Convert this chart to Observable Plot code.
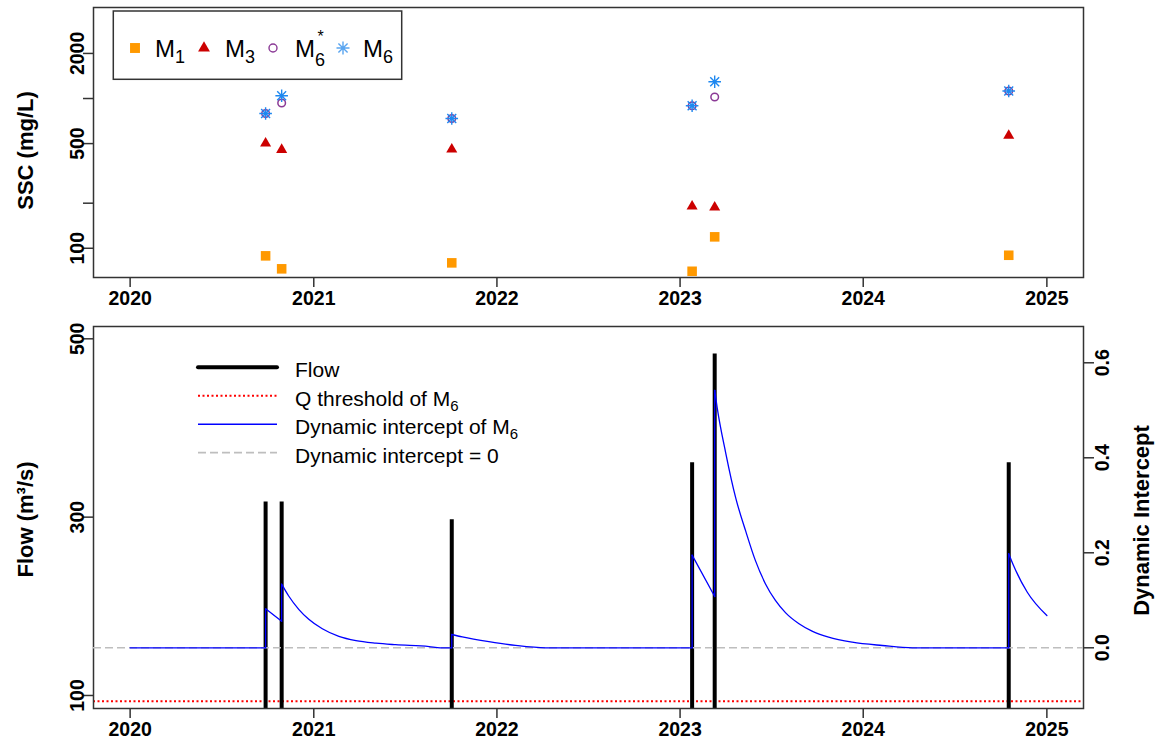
<!DOCTYPE html>
<html><head><meta charset="utf-8">
<script src="https://cdn.jsdelivr.net/npm/d3@7"></script>
<script src="https://cdn.jsdelivr.net/npm/@observablehq/plot@0.6"></script>
<style>
html,body{margin:0;padding:0;background:#fff;}
#chart{position:relative;width:1156px;height:747px;overflow:hidden;}
#chart svg{position:absolute;left:0;}
</style></head><body><div id="chart"></div>
<script>
// ---------------- data ----------------
const eventDates = ["2020-09-27","2020-10-29","2021-10-03","2023-01-25","2023-03-11","2024-10-17"];
const sscM1     = [89.0, 72.9, 79.9, 70.2, 119.2, 89.8];
const sscM3     = [502, 455, 458, 190.6, 187.7, 565];
const sscM6star = [795, 933, 736, 895, 1023, 1122];
const sscM6     = [795, 1044, 736, 895, 1294, 1122];
const flowPeaks = [317, 317, 297, 361, 483, 361];
const qThreshold = 93.5;

const interceptDates = ["2020-01-01","2020-09-27","2020-09-27","2020-10-29","2020-10-29","2020-11-12","2020-12-02","2020-12-22",
  "2021-01-18","2021-02-20","2021-03-26","2021-05-05","2021-06-13","2021-08-19","2021-09-10","2021-10-03","2021-10-03",
  "2021-10-24","2021-12-16","2022-02-07","2022-04-08","2023-01-25","2023-01-25","2023-03-11","2023-03-11","2023-03-16",
  "2023-04-02","2023-04-22","2023-05-12","2023-05-31","2023-06-20","2023-07-10","2023-07-30","2023-08-26","2023-09-21",
  "2023-10-24","2023-12-10","2024-02-08","2024-04-08","2024-10-17","2024-10-17","2024-10-27","2024-11-23","2025-01-01"];
const interceptValues = [0,0,0.082,0.056,0.134,0.109,0.081,0.060,
  0.040,0.024,0.015,0.0097,0.0065,0.0025,0,0,0.028,
  0.023,0.013,0.005,0,0,0.195,0.108,0.542,0.505,
  0.410,0.315,0.245,0.184,0.135,0.0996,0.074,0.0505,0.035,
  0.0223,0.0118,0.0048,0,0,0.198,0.172,0.117,0.068];

const yearTicks = ["2020-01-01","2021-01-01","2022-01-01","2023-01-01","2024-01-01","2025-01-01"];
const xLimits = ["2019-10-20","2025-03-15"];
const sscTicks = [100, 200, 500, 1000, 2000];
const sscTickLabels = ["100", "", "500", "", "2000"];
const sscLimits = [63.8, 4053];
const flowTicks = [100, 300, 500];
const flowLimits = [85.4, 513.8];
const interceptTicks = [0, 0.2, 0.4, 0.6];
const interceptLimits = [-0.1278, 0.6764];

const topLegendBase = ["M", "M", "M", "M"];
const topLegendSub  = ["1", "3", "6", "6"];
const topLegendSup  = ["", "", "*", ""];
const bottomLegendText = ["Flow", "Q threshold of M", "Dynamic intercept of M", "Dynamic intercept = 0"];
const bottomLegendSub  = ["", "6", "6", ""];

// ---------------- styles ----------------
const FONT = '"Liberation Sans", Arial, Helvetica, sans-serif';
const C_M1 = "#FF9900", C_M3 = "#CC0000", C_M6S = "#8B3A96", C_M6 = "#1E88F0";
const C_FRAME = "#333";

const parse = s => new Date(s + "T00:00:00Z");
const xDomain = xLimits.map(parse);
const yearDates = yearTicks.map(parse);
const ssc = eventDates.map((d, i) => ({date: parse(d), m1: sscM1[i], m3: sscM3[i], m6s: sscM6star[i], m6: sscM6[i]}));
const flow = eventDates.map((d, i) => ({date: parse(d), peak: flowPeaks[i]}));
const intercept = interceptDates.map((d, i) => ({date: parse(d), value: interceptValues[i]}));
const sscLabelMap = new Map(sscTicks.map((t, i) => [t, sscTickLabels[i]]));

// split the intercept series into smooth pieces at its vertical jumps
const segs = []; let cur = [];
intercept.forEach((p, i) => {
  if (i > 0 && +p.date === +intercept[i - 1].date) {
    segs.push(cur); segs.push([intercept[i - 1], p]); cur = [p];
  } else cur.push(p);
});
segs.push(cur);
const interceptSegs = segs.flatMap((s, k) => s.map(p => ({...p, seg: k})));

const asterisk8 = {
  draw(ctx, size) {
    const L = Math.sqrt(size / Math.PI), d = L / Math.SQRT2;
    ctx.moveTo(-L, 0); ctx.lineTo(L, 0);
    ctx.moveTo(0, -L); ctx.lineTo(0, L);
    ctx.moveTo(-d, -d); ctx.lineTo(d, d);
    ctx.moveTo(-d, d); ctx.lineTo(d, -d);
  }
};

const baseStyle = {fontFamily: FONT, fontSize: "19.5px", fontWeight: "bold", background: "transparent", overflow: "visible", color: "#000"};
const W = 1156, ML = 93, MR = 73;

// ---------------- top panel ----------------
const topPlot = Plot.plot({
  width: W, height: 310,
  marginLeft: ML, marginRight: MR, marginTop: 7, marginBottom: 33,
  style: baseStyle,
  x: {type: "utc", domain: xDomain},
  y: {type: "log", domain: sscLimits},
  marks: [
    Plot.axisX({ticks: yearDates, tickFormat: "%Y", tickSize: 10, tickPadding: 4, label: null, stroke: C_FRAME, strokeWidth: 1.5}),
    Plot.axisY({ticks: sscTicks, tickFormat: d => sscLabelMap.get(d), tickSize: 10, tickPadding: 0, tickRotate: -90,
      textAnchor: "middle", lineAnchor: "bottom", label: null, stroke: C_FRAME, strokeWidth: 1.5}),
    Plot.text(["SSC (mg/L)"], {text: d => d, frameAnchor: "left", dx: -68, dy: 8, rotate: -90, fontSize: 22, textAnchor: "middle", lineAnchor: "middle"}),
    Plot.dot(ssc, {x: "date", y: "m1", symbol: "square", r: 5.4, fill: C_M1, stroke: "none"}),
    Plot.dot(ssc, {x: "date", y: "m3", symbol: "triangle", r: 4.1, fill: C_M3, stroke: "none"}),
    Plot.dot(ssc, {x: "date", y: "m6s", symbol: "circle", r: 3.8, fill: "none", stroke: C_M6S, strokeWidth: 1.5}),
    Plot.dot(ssc, {x: "date", y: "m6", symbol: asterisk8, r: 6.3, fill: "none", stroke: C_M6, strokeWidth: 1.4}),
    Plot.frame({stroke: C_FRAME, strokeWidth: 1.5})
  ]
});
topPlot.style.top = "0px";
document.getElementById("chart").appendChild(topPlot);

// ---------------- bottom panel (flow, left axis) ----------------
const BH = 437, BT = 16, BB = 39;
const flowPlot = Plot.plot({
  width: W, height: BH,
  marginLeft: ML, marginRight: MR, marginTop: BT, marginBottom: BB,
  style: baseStyle,
  x: {type: "utc", domain: xDomain},
  y: {domain: flowLimits},
  marks: [
    Plot.ruleY([qThreshold], {stroke: "#FF0000", strokeWidth: 2, strokeDasharray: "2,2.5"}),
    Plot.ruleX(flow, {x: "date", y: "peak", stroke: "#000", strokeWidth: 4, clip: true}),
    Plot.axisX({ticks: yearDates, tickFormat: "%Y", tickSize: 10, tickPadding: 4, label: null, stroke: C_FRAME, strokeWidth: 1.5}),
    Plot.axisY({ticks: flowTicks, tickFormat: d => String(d), tickSize: 10, tickPadding: 0, tickRotate: -90,
      textAnchor: "middle", lineAnchor: "bottom", label: null, stroke: C_FRAME, strokeWidth: 1.5}),
    Plot.text(["Flow (m³/s)"], {text: d => d, frameAnchor: "left", dx: -68, dy: 2, rotate: -90, fontSize: 22, textAnchor: "middle", lineAnchor: "middle"}),
    Plot.frame({stroke: C_FRAME, strokeWidth: 1.5})
  ]
});
flowPlot.style.top = "310px";
document.getElementById("chart").appendChild(flowPlot);

// ---------------- bottom panel overlay (dynamic intercept, right axis) ----------------
const intPlot = Plot.plot({
  width: W, height: BH,
  marginLeft: ML, marginRight: MR, marginTop: BT, marginBottom: BB,
  style: baseStyle,
  x: {type: "utc", domain: xDomain, axis: null},
  y: {domain: interceptLimits},
  marks: [
    Plot.ruleY([0], {stroke: "#BEBEBE", strokeWidth: 1.6, strokeDasharray: "8,4"}),
    Plot.line(interceptSegs, {x: "date", y: "value", z: "seg", curve: "monotone-x", stroke: "#0000FF", strokeWidth: 1.3}),
    Plot.axisY({anchor: "right", ticks: interceptTicks, tickFormat: d3.format(".1f"), tickSize: 10, tickPadding: 2, tickRotate: -90,
      textAnchor: "middle", lineAnchor: "top", label: null, stroke: C_FRAME, strokeWidth: 1.5}),
    Plot.text(["Dynamic Intercept"], {text: d => d, frameAnchor: "right", dx: 58, dy: 3, rotate: -90, fontSize: 22, textAnchor: "middle", lineAnchor: "middle"})
  ]
});
intPlot.style.top = "310px";
document.getElementById("chart").appendChild(intPlot);

// ---------------- legends ----------------
const leg = d3.select("#chart").append("svg")
  .attr("width", W).attr("height", 747)
  .style("top", "0px").style("pointer-events", "none")
  .style("font-family", FONT);

// top legend
leg.append("rect").attr("x", 113.3).attr("y", 11).attr("width", 288.4).attr("height", 68.3)
  .attr("fill", "white").attr("stroke", C_FRAME).attr("stroke-width", 1.5);
const symX = [135, 204, 273, 343], txtX = [155, 225, 295, 363], symY = 48, txtY = 57;
const symDefs = [
  {type: d3.symbolSquare, size: Math.PI * 5.6 * 5.6, fill: C_M1, stroke: "none"},
  {type: d3.symbolTriangle, size: Math.PI * 4.4 * 4.4, fill: C_M3, stroke: "none"},
  {type: d3.symbolCircle, size: Math.PI * 4 * 4, fill: "none", stroke: C_M6S},
  {type: asterisk8, size: Math.PI * 6.5 * 6.5, fill: "none", stroke: "#5AA5F0"}
];
symDefs.forEach((s, i) => {
  leg.append("path").attr("d", d3.symbol(s.type, s.size)())
    .attr("transform", `translate(${symX[i]},${symY})`)
    .attr("fill", s.fill).attr("stroke", s.stroke).attr("stroke-width", 1.4);
  const t = leg.append("text").attr("x", txtX[i]).attr("y", txtY).attr("font-size", 24).attr("fill", "#000");
  t.append("tspan").text(topLegendBase[i]);
  t.append("tspan").attr("font-size", 18).attr("dy", topLegendSup[i] ? 9 : 6).text(topLegendSub[i]);
  if (topLegendSup[i]) {
    leg.append("text").attr("x", txtX[i] + 22.5).attr("y", 42).attr("font-size", 16).attr("fill", "#000").text(topLegendSup[i]);
  }
});

// bottom legend
const lineY = [367.3, 395.7, 424.2, 452.6];
const lineStyles = [
  {stroke: "#000", width: 4, dash: null},
  {stroke: "#FF0000", width: 2, dash: "2,2.5"},
  {stroke: "#0000FF", width: 1.5, dash: null},
  {stroke: "#BEBEBE", width: 1.6, dash: "8,4"}
];
lineStyles.forEach((s, i) => {
  leg.append("line").attr("x1", 198).attr("x2", 277).attr("y1", lineY[i]).attr("y2", lineY[i])
    .attr("stroke", s.stroke).attr("stroke-width", s.width)
    .attr("stroke-dasharray", s.dash).attr("stroke-linecap", i === 0 ? "round" : "butt");
  const t = leg.append("text").attr("x", 295).attr("y", lineY[i] + 10).attr("font-size", 21).attr("fill", "#000");
  t.append("tspan").text(bottomLegendText[i]);
  if (bottomLegendSub[i]) t.append("tspan").attr("font-size", 15).attr("dy", 5).text(bottomLegendSub[i]);
});
</script>
</body></html>
